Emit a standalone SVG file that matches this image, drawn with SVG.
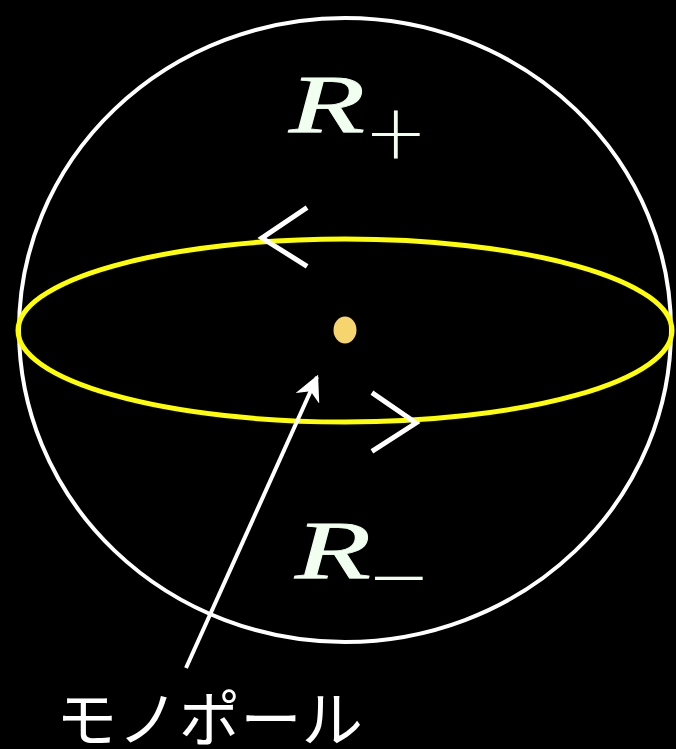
<svg xmlns="http://www.w3.org/2000/svg" width="676" height="749" viewBox="0 0 676 749">
<defs>
<style>
.sphere{fill:none;stroke:#ffffff;stroke-width:4}
.equator{fill:none;stroke:#ffff00;stroke-width:5}
.chev{fill:none;stroke:#ffffff;stroke-width:5;stroke-linecap:square}
.conn{fill:none;stroke:#ffffff;stroke-width:4}
.math{font-family:"Liberation Serif","DejaVu Serif",serif;font-style:italic;font-weight:normal;fill:#f0fff0;stroke:#f0fff0;stroke-width:0.8}
.sub{font-family:"DejaVu Sans","Liberation Sans",sans-serif;font-weight:300;fill:#f0fff0}
.label{font-family:"Noto Sans CJK JP","Noto Sans",sans-serif;fill:#ffffff}
</style>
<marker id="ah2" viewBox="0 0 10 10" refX="9" refY="5" markerWidth="26" markerHeight="26" markerUnits="userSpaceOnUse" orient="auto">
<path d="M0,0 L10,5 L0,10 L3,5 Z" fill="#ffffff"/>
</marker>
</defs>
<rect width="676" height="749" fill="#000000"/>
<g id="sphere"><ellipse class="sphere" cx="345" cy="330" rx="326" ry="312"/></g>
<g id="equator"><ellipse class="equator" cx="345" cy="330.5" rx="327" ry="91.5"/></g>
<g id="chevron-top"><polyline class="chev" points="305,209 262,238 305,265"/></g>
<g id="chevron-bottom"><polyline class="chev" points="374,394 416,423 374,450"/></g>
<g id="monopole"><ellipse cx="345" cy="330" rx="11.5" ry="13.5" fill="#f7d56e"/></g>
<g id="R-plus"><text class="math" x="289" y="132" font-size="82" textLength="76" lengthAdjust="spacingAndGlyphs">R</text><text class="sub" x="364" y="159" font-size="76">+</text></g>
<g id="R-minus"><text class="math" x="295" y="578" font-size="82" textLength="76" lengthAdjust="spacingAndGlyphs">R</text><text class="sub" x="367" y="602" font-size="76">−</text></g>
<g id="label"><text class="label" x="56" y="742" font-size="61" textLength="307" lengthAdjust="spacingAndGlyphs">モノポール</text></g>
<g id="connectors"><line class="conn" x1="186" y1="668" x2="317" y2="377" marker-end="url(#ah2)"/></g>
</svg>
